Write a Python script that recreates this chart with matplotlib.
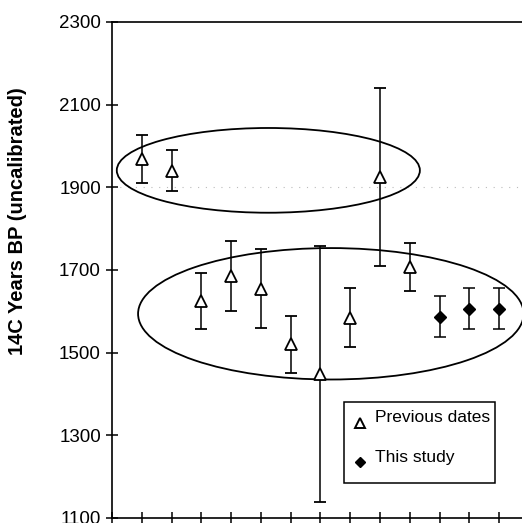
import matplotlib
matplotlib.use("Agg")
import matplotlib.pyplot as plt
from matplotlib.patches import Ellipse, Rectangle

plt.rcParams["font.family"] = ["Liberation Sans", "DejaVu Sans"]

# previous dates (open triangles)
prev_x = [1, 2, 3, 4, 5, 6, 7, 8, 9, 10]
prev_y = [1968, 1940, 1625, 1685, 1655, 1520, 1448, 1585, 1925, 1707]
prev_err = [58, 50, 68, 84, 95, 69, 310, 72, 215, 58]

# this study (filled diamonds)
new_x = [11, 12, 13]
new_y = [1587, 1606, 1606]
new_err = [50, 50, 50]

# grouping ellipses: (centre x, centre y, width, height)
groups = [(5.25, 1941, 10.18, 205), (7.35, 1594, 12.95, 318)]

fig = plt.figure(figsize=(5.22, 5.23), dpi=100, facecolor="white")
ax = fig.add_axes([0.2146, 0.0096, 0.7985, 0.9484])

ax.axhline(1900, color="#bbbbbb", lw=0.8, ls=(0, (1, 6)), zorder=0)

for cx, cy, w, h in groups:
    ax.add_patch(Ellipse((cx, cy), w, h, facecolor="none", edgecolor="black",
                         lw=1.3, zorder=2))

ax.errorbar(prev_x, prev_y, yerr=prev_err, fmt="^", ms=8, mfc="white", mec="black",
            mew=1.3, ecolor="black", elinewidth=1.1, capsize=4.5, capthick=1.1, zorder=3)
ax.errorbar(new_x, new_y, yerr=new_err, fmt="D", ms=6.5, mfc="black", mec="black",
            ecolor="black", elinewidth=1.1, capsize=4.5, capthick=1.1, zorder=3)

ax.set_xlim(0, 14)
ax.set_ylim(1100, 2300)
ax.set_yticks(range(1100, 2301, 200))
ax.set_xticks(range(0, 15))
ax.set_xticklabels([])
ax.tick_params(axis="both", direction="inout", length=8, width=1.1, labelsize=13.5,
               colors="black")
ax.tick_params(axis="y", pad=4)
for s in ax.spines.values():
    s.set_linewidth(1.2)

ax.set_ylabel("14C Years BP (uncalibrated)", fontsize=14.5, fontweight="bold")
ax.yaxis.set_label_coords(-0.205, 0.599)

# legend box, drawn by hand so the padding matches
ax.add_patch(Rectangle((0.5566, 0.0706), 0.3624, 0.1633, transform=ax.transAxes,
                       facecolor="white", edgecolor="black", lw=1.1, zorder=5))
ax.plot([0.595], [0.1915], transform=ax.transAxes, ls="none", marker="^", ms=6.5,
        mfc="white", mec="black", mew=1.4, zorder=6, clip_on=False)
ax.plot([0.595], [0.1135], transform=ax.transAxes, ls="none", marker="D", ms=5.5,
        mfc="black", mec="black", zorder=6, clip_on=False)
ax.text(0.631, 0.2016, "Previous dates", transform=ax.transAxes, fontsize=12.5,
        va="center", ha="left", zorder=6)
ax.text(0.631, 0.121, "This study", transform=ax.transAxes, fontsize=12.5,
        va="center", ha="left", zorder=6)

fig.savefig("out.png", dpi=100, facecolor="white")
